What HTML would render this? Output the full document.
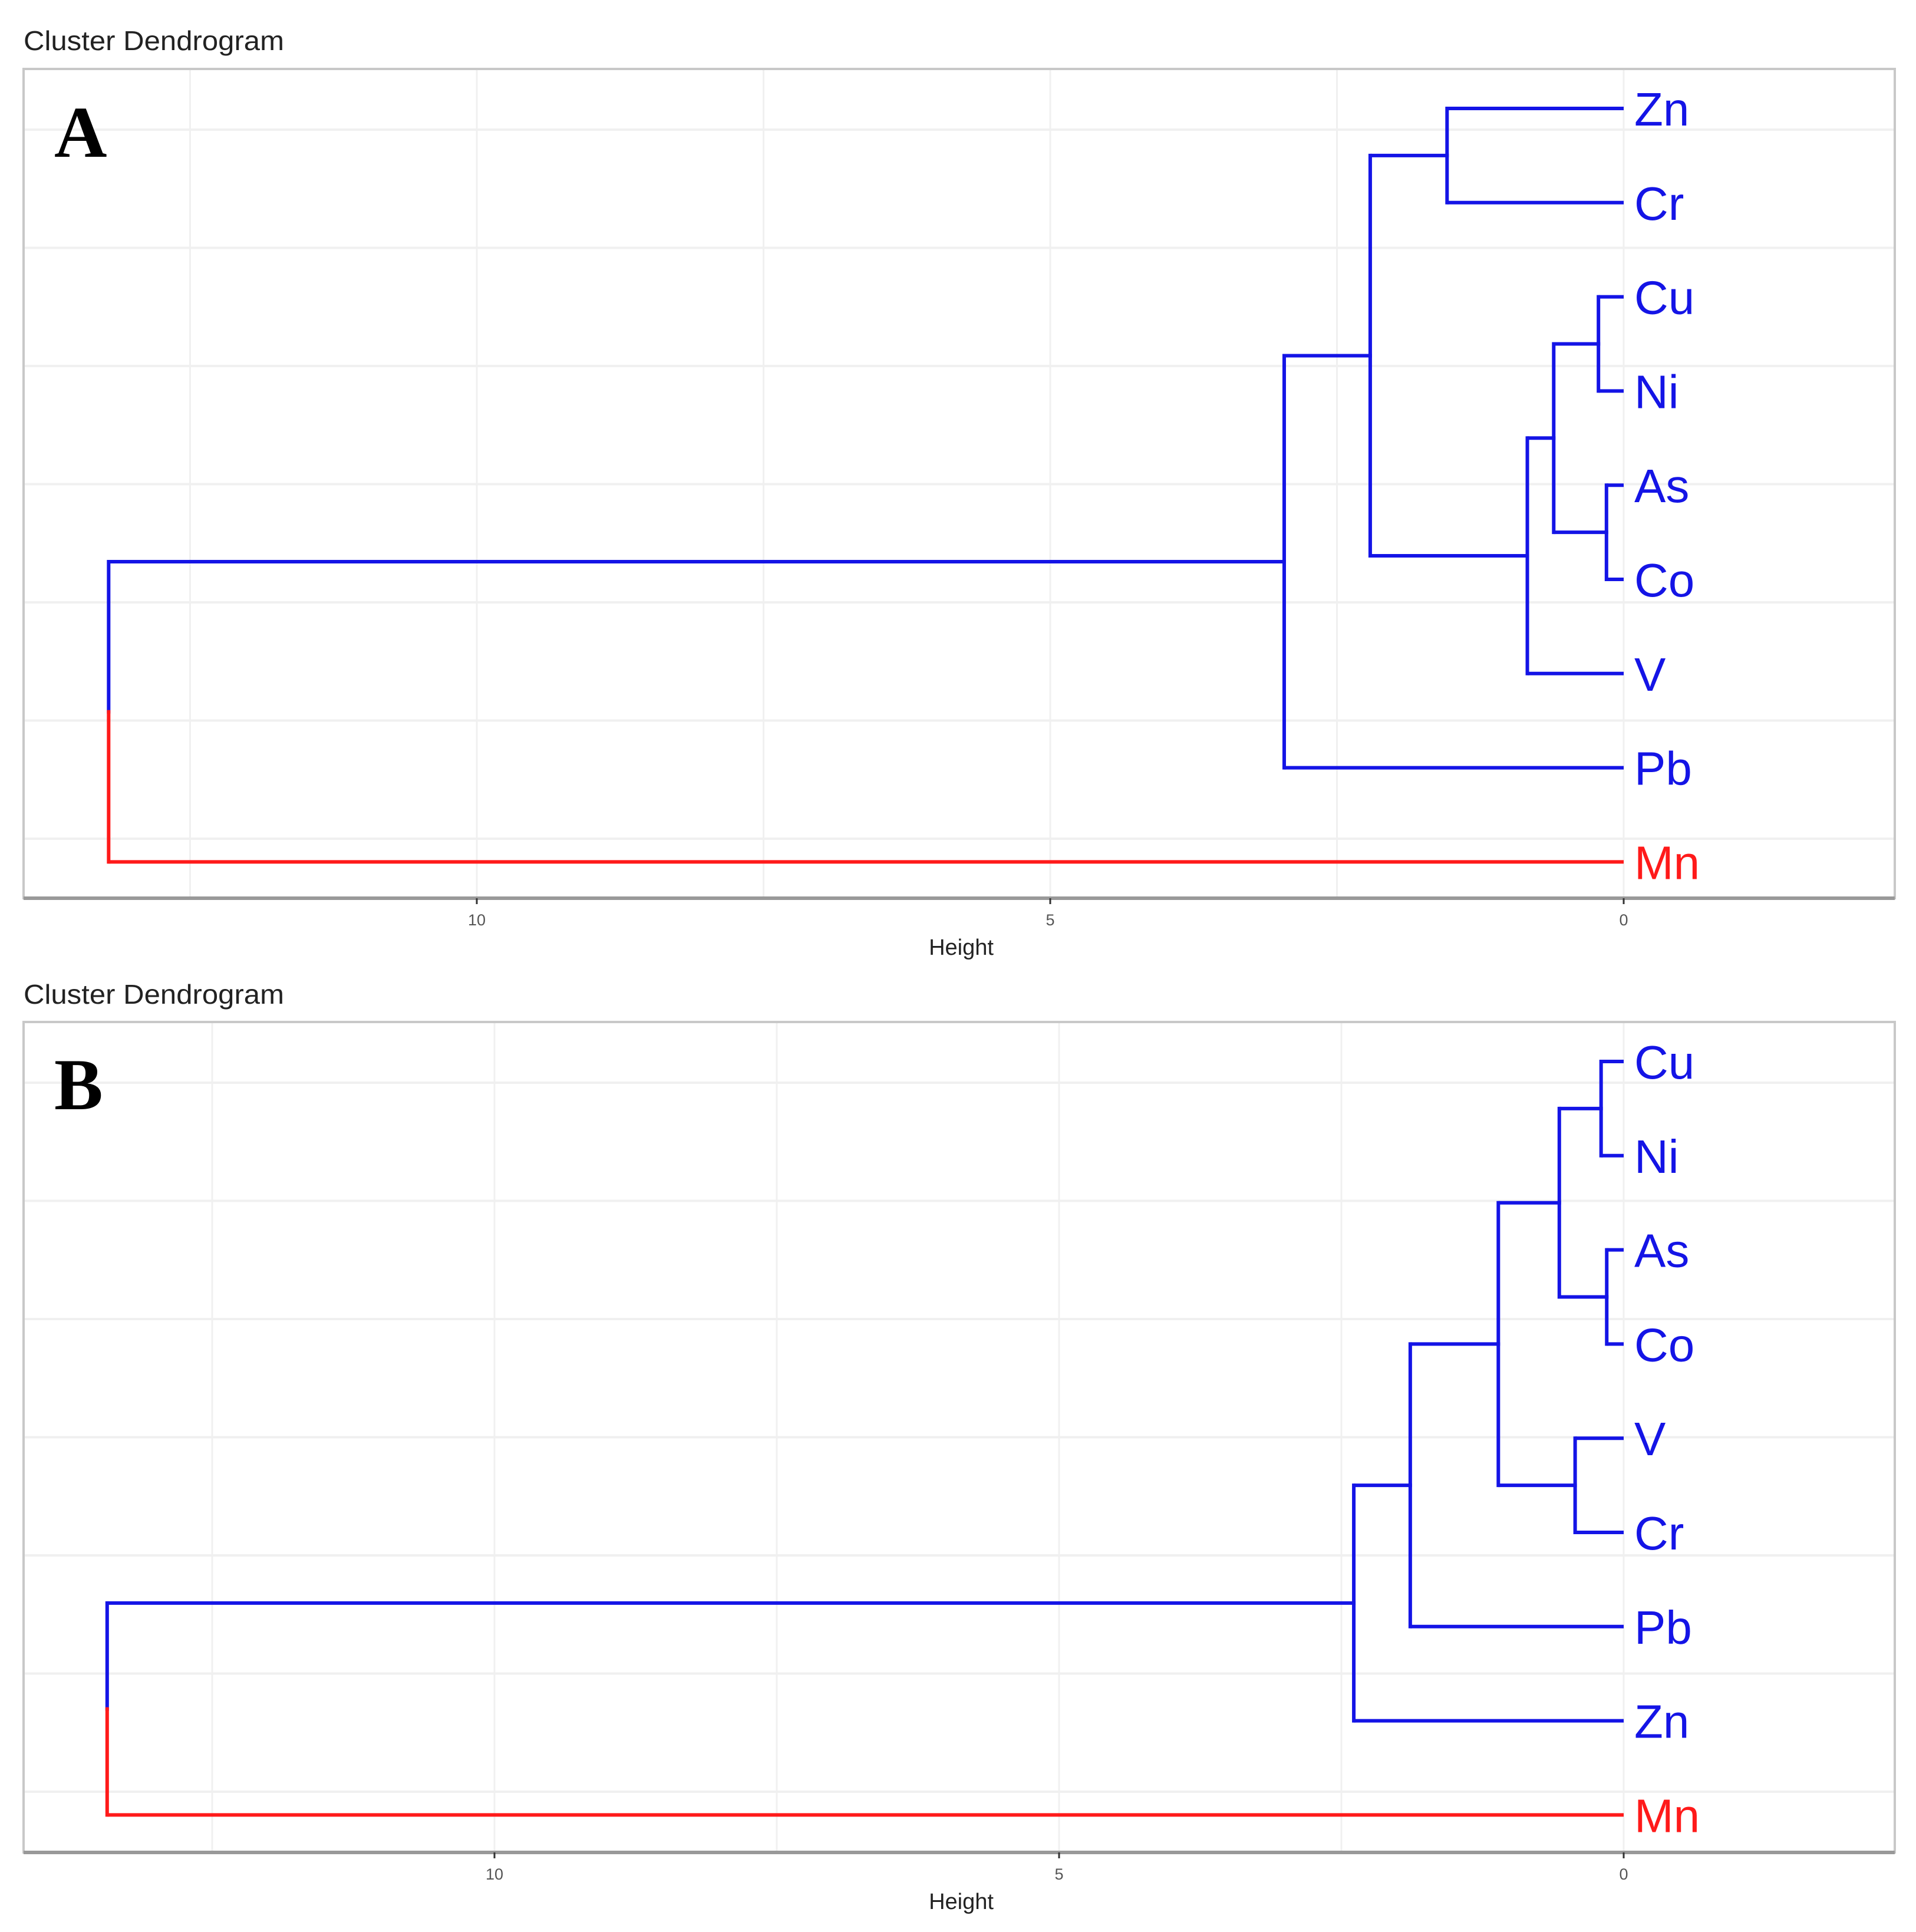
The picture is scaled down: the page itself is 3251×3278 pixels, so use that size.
<!DOCTYPE html>
<html><head><meta charset="utf-8"><style>
html,body{margin:0;padding:0;background:#fff;width:3251px;height:3278px;overflow:hidden}
svg{display:block}
</style></head><body>
<svg id="chart" width="3251" height="3278" xmlns="http://www.w3.org/2000/svg"></svg>
<script>
// Panel A data
const labelsA = ["Zn","Cr","Cu","Ni","As","Co","V","Pb","Mn"];
// merges: [leftNode, rightNode, height]; leaf = index, cluster = "c"+k
const mergesA = [[2,3,0.22],[4,5,0.15],["c0","c1",0.61],["c2",6,0.84],[0,1,1.54],["c4","c3",2.21],["c5",7,2.96],["c6",8,13.21]];
const ticksA = [10,5,0];
// Panel B data
const labelsB = ["Cu","Ni","As","Co","V","Cr","Pb","Zn","Mn"];
const mergesB = [[0,1,0.2],[2,3,0.15],["c0","c1",0.57],[4,5,0.43],["c2","c3",1.11],["c4",6,1.89],["c5",7,2.39],["c6",8,13.43]];
const ticksB = [10,5,0];

const NS="http://www.w3.org/2000/svg";
const svg=document.getElementById('chart');
function mk(tag,attrs,parent){const e=document.createElementNS(NS,tag);for(const k in attrs)e.setAttribute(k,attrs[k]);(parent||svg).appendChild(e);return e;}

function panel(cfg){
  const g=mk('g',{});
  
  
  const t=mk('text',{x:40,y:cfg.titleY,'font-family':'Liberation Sans, sans-serif','font-size':46,fill:'#222',textLength:442,lengthAdjust:'spacingAndGlyphs'},g);
  t.textContent='Cluster Dendrogram';
  
  
  const L=40,R=3215,T=cfg.top,B=cfg.bottom;
  const xs=h=>cfg.x0-h*cfg.pxPerUnit;
  const n=cfg.labels.length;
  const ys=i=>cfg.y0+i*cfg.dy;
  for(let v=-2.5;v<=14;v+=2.5){const x=xs(v);if(x<L||x>R)continue;
    const gl=mk('line',{x1:x,x2:x,y1:T,y2:B,stroke:'#f0f0f0','stroke-width':3},g);
    
    }
  for(let k=0;k<7;k++){const y=cfg.gridY0+k*cfg.gridDy;
    const gl=mk('line',{x1:L,x2:R,y1:y,y2:y,stroke:'#f0f0f0','stroke-width':4},g);
    
    }
  const fr=mk('rect',{x:L,y:T,width:R-L,height:B-T,fill:'none',stroke:'#c8c8c8','stroke-width':4},g);
  
  
  const ax=mk('line',{x1:L,x2:R,y1:B,y2:B,stroke:'#999','stroke-width':6},g);
  
  
  cfg.ticks.forEach(v=>{const x=xs(v);
    const tk=mk('line',{x1:x,x2:x,y1:B,y2:B+10,stroke:'#333','stroke-width':3},g);
    
    
    const tl=mk('text',{x:x,y:B+46,'text-anchor':'middle','font-family':'Liberation Sans, sans-serif','font-size':27,fill:'#555'},g);
    tl.textContent=String(v);
    
    });
  const xt=mk('text',{x:1631,y:B+96,'text-anchor':'middle','font-family':'Liberation Sans, sans-serif','font-size':38,fill:'#222'},g);
  xt.textContent='Height';
  
  
  const lt=mk('text',{x:92,y:cfg.letterY,'font-family':'Liberation Serif, serif','font-weight':'bold','font-size':124,fill:'#000'},g);
  lt.textContent=cfg.letter;
  
  
  const blue='#1414e6',red='#ff1a1a';
  const nodes=[];
  const pos=r=>typeof r==='number'?{y:ys(r),h:0,col:r===n-1?red:blue}:nodes[+r.slice(1)];
  cfg.merges.forEach((m,k)=>{
    const a=pos(m[0]),b=pos(m[1]),h=m[2],x=xs(h);
    [a,b].forEach(c=>{const s=mk('line',{x1:xs(c.h),x2:x,y1:c.y,y2:c.y,stroke:c.col,'stroke-width':6},g);
      
      });
    const mid=(a.y+b.y)/2;
    [[a,a.y],[b,b.y]].forEach(([c,y])=>{const s=mk('line',{x1:x,x2:x,y1:y,y2:mid,stroke:c.col,'stroke-width':6,'stroke-linecap':'square'},g);
      
      });
    nodes.push({y:mid,h:h,col:(a.col===red&&b.col===red)?red:blue});
  });
  cfg.labels.forEach((l,i)=>{
    const tx=mk('text',{x:2773,y:ys(i)+29,'font-family':'Liberation Sans, sans-serif','font-size':80,fill:i===n-1?red:blue},g);
    tx.textContent=l;
    
    
  });
}
panel({name:'panel-a',letter:'A',titleY:85,letterY:266,top:117,bottom:1524,x0:2755,pxPerUnit:194.6,y0:184,dy:159.8,gridY0:220,gridDy:200.5,labels:labelsA,merges:mergesA,ticks:ticksA});
panel({name:'panel-b',letter:'B',titleY:1703,letterY:1882,top:1734,bottom:3143,x0:2755,pxPerUnit:191.6,y0:1801,dy:159.8,gridY0:1837,gridDy:200.5,labels:labelsB,merges:mergesB,ticks:ticksB});
</script>
</body></html>
